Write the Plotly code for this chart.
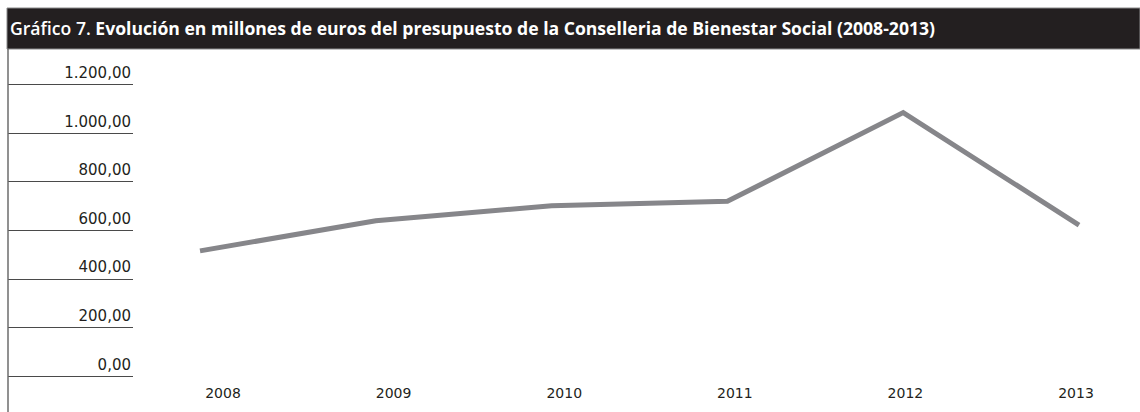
import plotly.graph_objects as go

# ---- data ----
years = [2008, 2009, 2010, 2011, 2012, 2013]
budget = [516, 640, 702, 720, 1085, 622]
y_ticks = [0, 200, 400, 600, 800, 1000, 1200]
y_labels = ["0,00", "200,00", "400,00", "600,00", "800,00", "1.000,00", "1.200,00"]
x_labels = ["2008", "2009", "2010", "2011", "2012", "2013"]
title_lead = "Gráfico 7."
title_main = "Evolución en millones de euros del presupuesto de la Conselleria de Bienestar Social (2008-2013)"

W, H = 1140, 412
ML, MR, MT, MB = 8, 0, 49, 29
PW = W - ML - MR
PH = H - MT - MB

y_range = [-27.6, 1346.9]
TXT = "#231f20"
LINE = "#86868a"

fig = go.Figure()
# data line
fig.add_trace(go.Scatter(x=years, y=budget, mode="lines", xaxis="x", yaxis="y2",
                         line=dict(color=LINE, width=5), hoverinfo="x+y", showlegend=False))
# carrier for the label axis
fig.add_trace(go.Scatter(x=years, y=budget, mode="lines", xaxis="x3", yaxis="y2",
                         line=dict(color="rgba(0,0,0,0)", width=0), hoverinfo="skip", showlegend=False))
# carrier for the value-axis subplot
fig.add_trace(go.Scatter(x=[0], y=[y_ticks[0]], mode="markers", xaxis="x2", yaxis="y",
                         marker=dict(opacity=0), hoverinfo="skip", showlegend=False))

fig.update_layout(
    width=W, height=H,
    margin=dict(l=ML, r=MR, t=MT, b=MB),
    paper_bgcolor="white", plot_bgcolor="rgba(0,0,0,0)",
    font=dict(family="DejaVu Sans", color=TXT, size=14),
    xaxis=dict(domain=[0, 1], anchor="y2", range=[2006.9078, 2013.347],
               showgrid=False, zeroline=False, showline=False, showticklabels=False, ticks=""),
    yaxis2=dict(anchor="x", range=y_range, visible=False),
    xaxis3=dict(overlaying="x", anchor="y2", side="bottom", range=[2006.7397, 2013.375],
                tickvals=years, ticktext=x_labels, showgrid=False, zeroline=False,
                showline=False, ticks="", tickfont=dict(size=14, color=TXT)),
    xaxis2=dict(domain=[0, 125 / PW], anchor="y", range=[0, 1], visible=False),
    yaxis=dict(anchor="x2", side="right", range=y_range, tickvals=y_ticks, ticktext=y_labels,
               ticklabelposition="inside", ticklabelshift=-12, ticklabelstandoff=-1,
               showgrid=True, gridcolor="#4a4a4a", gridwidth=1, zeroline=False,
               showline=False, ticks="", tickfont=dict(size=15, color=TXT)),
    title=dict(text="<span style='font-weight:600'>" + title_lead + "</span> <b>" + title_main + "</b>",
               x=10 / W, xref="container", xanchor="left",
               y=1 - 29 / H, yref="container", yanchor="middle",
               font=dict(family="Open Sans", size=17.6, color="white")),
)

# header band
fig.add_shape(type="rect", xref="paper", yref="paper",
              x0=-1 / PW, x1=1, y0=1.0, y1=(PH + MT - 8) / PH,
              fillcolor="#231f20", line=dict(color="#8a8a8a", width=1), layer="below")
# left vertical rule
fig.add_shape(type="line", xref="paper", yref="paper",
              x0=0, x1=0, y0=1.0, y1=-MB / PH,
              line=dict(color="#6d6d6d", width=1.5))

fig.write_html("out.html", config={"displayModeBar": False},
               post_script="document.body.style.margin='0';")
